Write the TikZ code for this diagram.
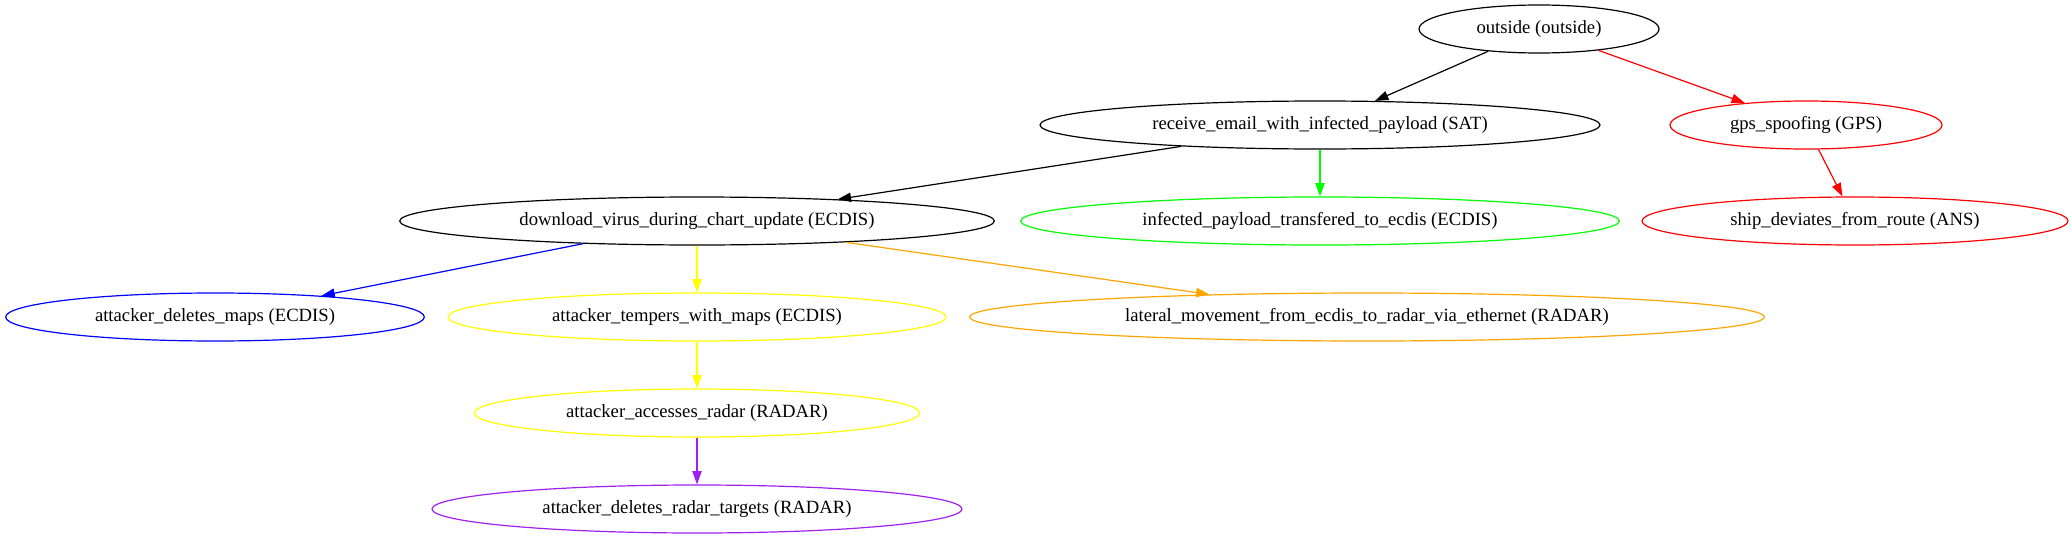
\documentclass[tikz,border=0pt]{standalone}
\usepackage{fontspec}
\setmainfont{Liberation Serif}
\usepackage{tikz}
\usetikzlibrary{shapes.geometric, arrows.meta, positioning}
\definecolor{gvgreen}{HTML}{00FF00}
\definecolor{gvyellow}{HTML}{FFFF00}
\definecolor{gvorange}{HTML}{FFA500}
\definecolor{gvpurple}{HTML}{A020F0}
\tikzstyle{attstate} = [ellipse, minimum height=36pt, inner sep=0pt, draw=black, line width=0.9pt, font=\fontsize{14pt}{16pt}\selectfont]
\tikzstyle{attarrow} = [line width=0.9pt, -{Triangle[length=10pt,width=7pt]}]
\newcommand{\lbl}[1]{\makebox[0pt]{#1}}

\begin{document}
\begin{tikzpicture}[node distance=72pt,on grid,auto]
		\useasboundingbox (0,0) rectangle (1553.25pt,-404.25pt);
		   	\node[attstate,minimum width=180pt](outside) at (1154.25pt,-21.75pt){\lbl{outside (outside)}};
		   	\node[attstate,minimum width=420pt](sat) at (990pt,-93.75pt){\lbl{receive\_email\_with\_infected\_payload (SAT)}};
		   	\node[attstate,minimum width=204pt,draw=red](gps) at (1354.5pt,-93.75pt){\lbl{gps\_spoofing (GPS)}};
		   	\node[attstate,minimum width=446pt](download) at (522.75pt,-165.75pt){\lbl{download\_virus\_during\_chart\_update (ECDIS)}};
		   	\node[attstate,minimum width=449pt,draw=gvgreen](infected)[below of=sat]{\lbl{infected\_payload\_transfered\_to\_ecdis (ECDIS)}};
		   	\node[attstate,minimum width=319.5pt,draw=red](ship) at (1391.25pt,-165.75pt){\lbl{ship\_deviates\_from\_route (ANS)}};
		   	\node[attstate,minimum width=314pt,draw=blue](delmaps) at (161.25pt,-237.75pt){\lbl{attacker\_deletes\_maps (ECDIS)}};
		   	\node[attstate,minimum width=373.5pt,draw=gvyellow](tempers)[below of=download]{\lbl{attacker\_tempers\_with\_maps (ECDIS)}};
		   	\node[attstate,minimum width=596pt,draw=gvorange](lateral) at (1025.25pt,-237.75pt){\lbl{lateral\_movement\_from\_ecdis\_to\_radar\_via\_ethernet (RADAR)}};
		   	\node[attstate,minimum width=334pt,draw=gvyellow](accesses)[below of=tempers]{\lbl{attacker\_accesses\_radar (RADAR)}};
		   	\node[attstate,minimum width=397.5pt,draw=gvpurple](delradar)[below of=accesses]{\lbl{attacker\_deletes\_radar\_targets (RADAR)}};
		    \path[attarrow]
		    (outside) edge node {} (sat)
		    (outside) edge[red] node {} (gps)
		   	(sat) edge node {} (download)
		   	(sat) edge[gvgreen] node {} (infected)
		   	(gps) edge[red] node {} (ship)
		   	(download) edge[blue] node {} (delmaps)
		   	(download) edge[gvyellow] node {} (tempers)
		   	(download) edge[gvorange] node {} (lateral)
		   	(tempers) edge[gvyellow] node {} (accesses)
		   	(accesses) edge[gvpurple] node {} (delradar);
		\end{tikzpicture}
\end{document}
